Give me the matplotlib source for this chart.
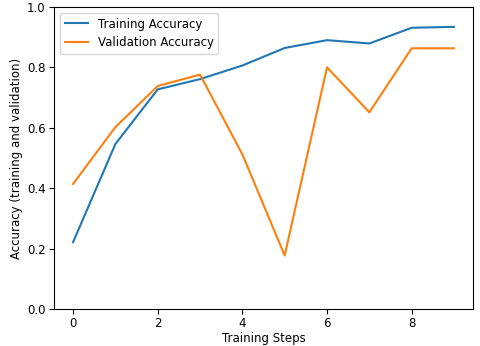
import numpy as np
import matplotlib.pyplot as plt

steps = [0, 1, 2, 3, 4, 5, 6, 7, 8, 9]
train_acc = [0.221, 0.546, 0.727, 0.761, 0.806, 0.864, 0.890, 0.879, 0.931, 0.934]
val_acc = [0.414, 0.602, 0.738, 0.776, 0.512, 0.177, 0.800, 0.651, 0.863, 0.863]

fig = plt.figure(figsize=(4.8, 3.46), dpi=100)
ax = fig.add_axes([0.1125, 0.107, 0.873, 0.873])

ax.plot(np.array(steps), np.array(train_acc), label="Training Accuracy")
ax.plot(np.array(steps), np.array(val_acc), label="Validation Accuracy")

ax.set_ylim(0, 1.0)
ax.set_xlabel('Training Steps', fontsize=8.5, labelpad=1)
ax.set_ylabel('Accuracy (training and validation)', fontsize=8.5, labelpad=3)
ax.tick_params(labelsize=8.5, pad=2.5)
ax.legend(fontsize=8.5)

fig.savefig('out.png', dpi=100)
